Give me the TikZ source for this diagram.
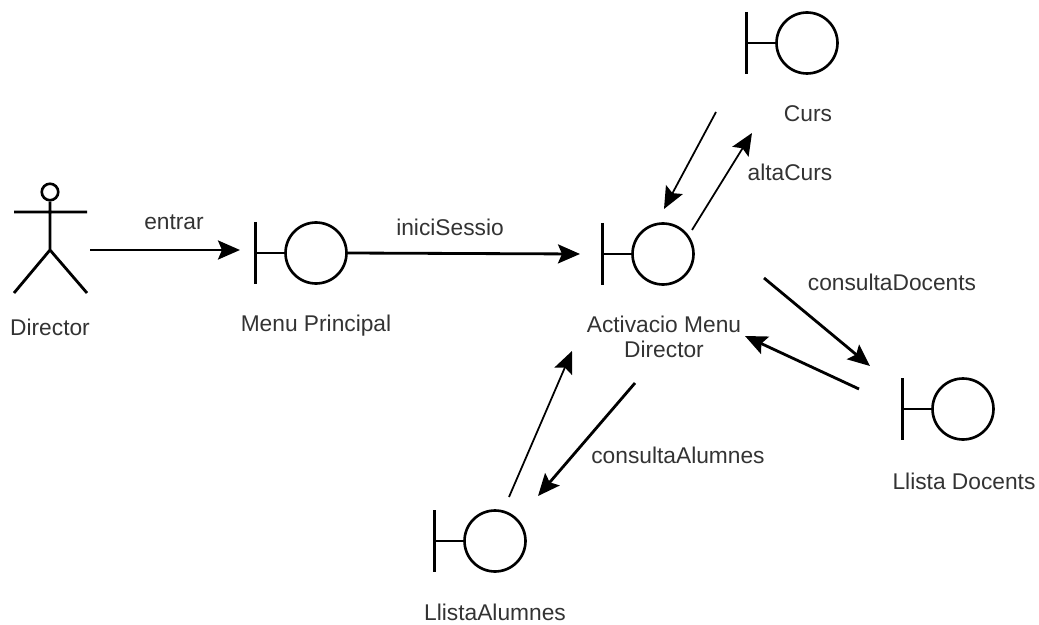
\documentclass[tikz,border=0pt]{standalone}
\usepackage{fontspec}
\setmainfont{Liberation Sans}
\usetikzlibrary{arrows.meta}
\tikzset{
  boundary/.style={circle,draw,line width=1.5pt,minimum size=1.22cm,inner sep=0pt},
  stem/.style={line width=1.5pt},
  figure/.style={line width=1.6pt},
  lbl/.style={font=\fontsize{12.95}{14.2}\selectfont,align=center,text=black!80},
  msg/.style={-{Stealth[length=0.44cm,width=0.38cm,inset=0.08cm]},line width=1.6pt},
  thin msg/.style={-{Stealth[length=0.44cm,width=0.38cm,inset=0.08cm]},line width=1pt}
}
\begin{document}
\begin{tikzpicture}[x=0.02cm,y=-0.02cm]
  \useasboundingbox (0,0) rectangle (1039,625);
  % boundaries
  \node[boundary] (menu) at (316,253) {};
  \node[boundary] (activ) at (663,254) {};
  \node[boundary] (curs) at (807,43) {};
  \node[boundary] (docents) at (963,409) {};
  \node[boundary] (alumnes) at (495,541) {};
  \foreach \b in {menu,activ,curs,docents,alumnes} {
    \draw[stem] (\b.west) -- +(-29,0);
    \draw[stem] ([shift={(-29,-31)}]\b.west) -- +(0,62);
  }
  % actor
  \node[circle,draw,line width=1.5pt,minimum size=0.33cm,inner sep=0pt] (head) at (50,192) {};
  \coordinate (hip) at (50,250);
  \coordinate (armL) at (14,212);
  \coordinate (armR) at (87,212);
  \coordinate (legL) at (14,293);
  \coordinate (legR) at (87,293);
  \draw[figure] (head) -- (hip) (armL) -- (armR) (legL) -- (hip) -- (legR);
  % labels
  \node[lbl] (ldirector) at (50,327) {Director};
  \node[lbl] (lmenu) at (316,326) {Menu Principal};
  \node[lbl] (lactiv) at (664,337) {Activacio Menu\\Director};
  \node[lbl] (lcurs) at (808,114) {Curs};
  \node[lbl] (ldocents) at (964,481) {Llista Docents};
  \node[lbl] (lalumnes) at (495,612) {LlistaAlumnes};
  \node[lbl] (mentrar) at (174,222) {entrar};
  \node[lbl] (minici) at (450,227) {iniciSessio};
  \node[lbl] (malta) at (790,172) {altaCurs};
  \node[lbl] (mdoc) at (892,282) {consultaDocents};
  \node[lbl] (malu) at (678,455) {consultaAlumnes};
  % free ends of the arrows
  \coordinate (a1) at (90,250);
  \coordinate (a2) at (240,250);
  \coordinate (i2) at (580,254);
  \coordinate (b1) at (692,230);
  \coordinate (b2) at (752,133);
  \coordinate (c1) at (716,112);
  \coordinate (c2) at (664,209);
  \coordinate (d1) at (764,278);
  \coordinate (d2) at (870,366);
  \coordinate (e1) at (859,389);
  \coordinate (e2) at (745,336);
  \coordinate (f1) at (635,383);
  \coordinate (f2) at (538,496);
  \coordinate (g1) at (509,497);
  \coordinate (g2) at (572,351);
  \draw[msg] (a1) -- (a2);
  \draw[msg] (menu.east) -- (i2);
  \draw[thin msg] (b1) -- (b2);
  \draw[thin msg] (c1) -- (c2);
  \draw[msg] (d1) -- (d2);
  \draw[msg] (e1) -- (e2);
  \draw[msg] (f1) -- (f2);
  \draw[thin msg] (g1) -- (g2);
\end{tikzpicture}
\end{document}
